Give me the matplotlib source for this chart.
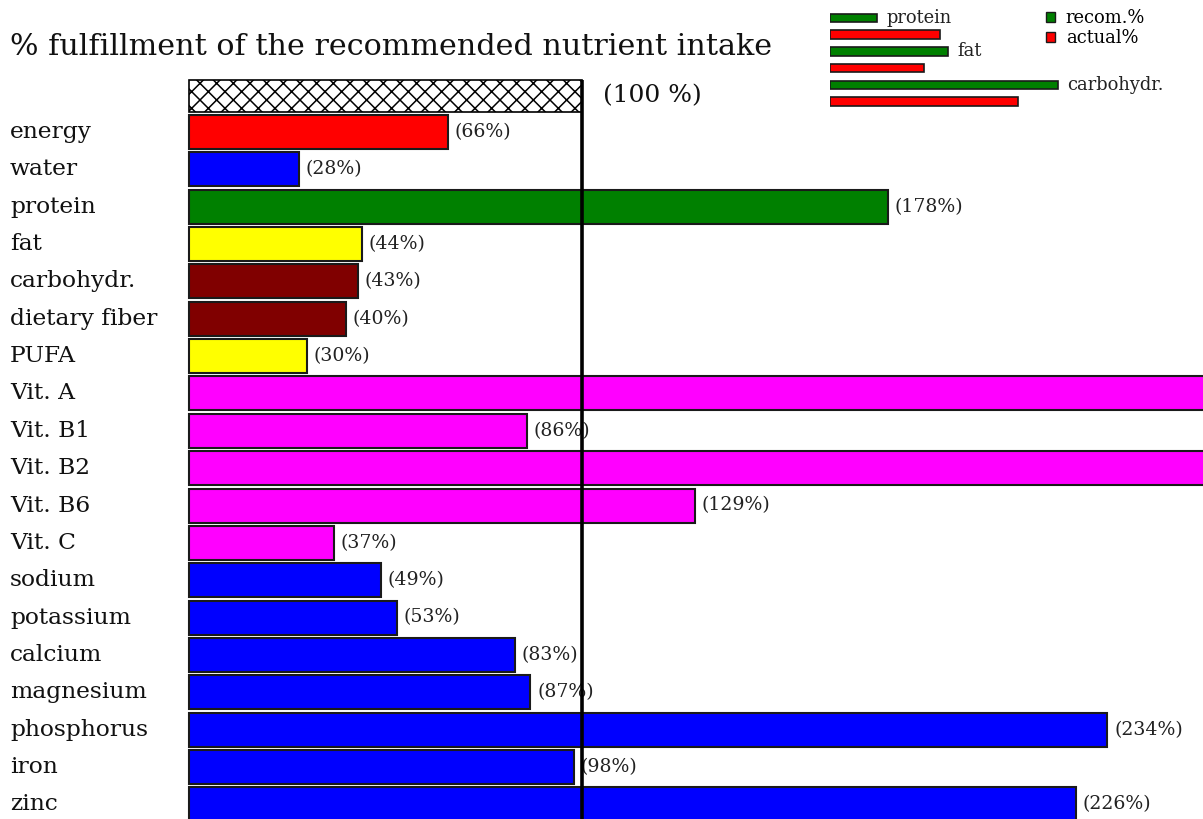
import matplotlib
matplotlib.use("Agg")
import matplotlib.pyplot as plt
from matplotlib.patches import Patch

plt.rcParams['font.family'] = ['DejaVu Serif', 'Liberation Serif']
plt.rcParams['hatch.linewidth'] = 1.1

# ---- data ----
nutrients = ["energy", "water", "protein", "fat", "carbohydr.", "dietary fiber", "PUFA",
             "Vit. A", "Vit. B1", "Vit. B2", "Vit. B6", "Vit. C",
             "sodium", "potassium", "calcium", "magnesium", "phosphorus", "iron", "zinc"]
fulfillment = [66, 28, 178, 44, 43, 40, 30,
               310, 86, 280, 129, 37,
               49, 53, 83, 87, 234, 98, 226]
bar_colors = ["#FF0000", "#0000FF", "#008000", "#FFFF00", "#800000", "#800000", "#FFFF00",
              "#FF00FF", "#FF00FF", "#FF00FF", "#FF00FF", "#FF00FF",
              "#0000FF", "#0000FF", "#0000FF", "#0000FF", "#0000FF", "#0000FF", "#0000FF"]

macro_names = ["protein", "fat", "carbohydr."]
macro_recom = [12, 30, 58]
macro_actual = [28, 24, 48]

reference_pct = 100

# ---- layout constants (pixels) ----
W, H = 1203, 819
PX_PER_PCT = 3.925
X0 = 189          # pixel of 0 %
ROW0 = 132        # pixel center of first row
ROW_STEP = 37.35

fig = plt.figure(figsize=(W / 100, H / 100), dpi=100)
ax = fig.add_axes([0, 0, 1, 1])
ax.set_xlim(-X0 / PX_PER_PCT, (W - X0) / PX_PER_PCT)
ax.set_ylim((H - ROW0) / ROW_STEP, -ROW0 / ROW_STEP)
ax.axis('off')

rows = list(range(len(nutrients)))
bar_h = 34 / ROW_STEP
ax.barh(rows, fulfillment, height=bar_h, left=0, color=bar_colors,
        edgecolor="#1a1a1a", linewidth=1.5, zorder=2)

xmax = (W - X0) / PX_PER_PCT
for r, v in zip(rows, fulfillment):
    if v + 15 < xmax:
        ax.text(v + 1.7, r, f"({v}%)", ha='left', va='center', fontsize=13.6,
                color="#222222", zorder=3)

ytr = ax.get_yaxis_transform()
for r, name in zip(rows, nutrients):
    ax.text(10 / W, r, name, transform=ytr, ha='left', va='center', fontsize=16.8,
            color="#111111")

# 100 % reference box
box_y = (96 - ROW0) / ROW_STEP
box_h = 32 / ROW_STEP
ax.barh([box_y], [reference_pct], height=box_h, left=0, facecolor='white',
        edgecolor='black', hatch='xx', linewidth=1.2, zorder=2)
ax.text(reference_pct + 5.5, box_y, f"({reference_pct} %)", ha='left', va='center',
        fontsize=18, color="#111111")
ax.plot([reference_pct, reference_pct], [box_y - box_h / 2, (H - ROW0) / ROW_STEP + 1],
        color='black', linewidth=2.6, zorder=5, solid_capstyle='butt')

fig.text(10 / W, 1 - 47 / H, "% fulfillment of the recommended nutrient intake",
         ha='left', va='center', fontsize=21.7, color="#111111")

# ---- macro composition inset ----
LX0 = 830
LTOP = 0
LBOT = 120
LSTEP = 16.7
LROW0 = 18
ax2 = fig.add_axes([LX0 / W, 1 - LBOT / H, (W - LX0) / W, (LBOT - LTOP) / H])
ax2.set_xlim(0, (W - LX0) / PX_PER_PCT)
ax2.set_ylim((LBOT - LROW0) / LSTEP, -LROW0 / LSTEP)
ax2.axis('off')
lh = 8.5 / LSTEP
for i, (nm, rc, ac) in enumerate(zip(macro_names, macro_recom, macro_actual)):
    ax2.barh([2 * i], [rc], height=lh, color="#008000", edgecolor="#1a1a1a", linewidth=1.2)
    ax2.barh([2 * i + 1], [ac], height=lh, color="#FF0000", edgecolor="#1a1a1a", linewidth=1.2)
    ax2.text(rc + 2.5, 2 * i, nm, ha='left', va='center', fontsize=12.9, color="#222222")

handles = [Patch(facecolor="#008000", edgecolor="#1a1a1a", label="recom.%"),
           Patch(facecolor="#FF0000", edgecolor="#1a1a1a", label="actual%")]
fig.legend(handles=handles, loc='upper left', bbox_to_anchor=(1046 / W, 1 - 9 / H),
           frameon=False, fontsize=12.9, handlelength=0.5, handleheight=0.5,
           handletextpad=0.6, labelspacing=0.12, borderpad=0, borderaxespad=0)

fig.savefig("out.png", dpi=100)
